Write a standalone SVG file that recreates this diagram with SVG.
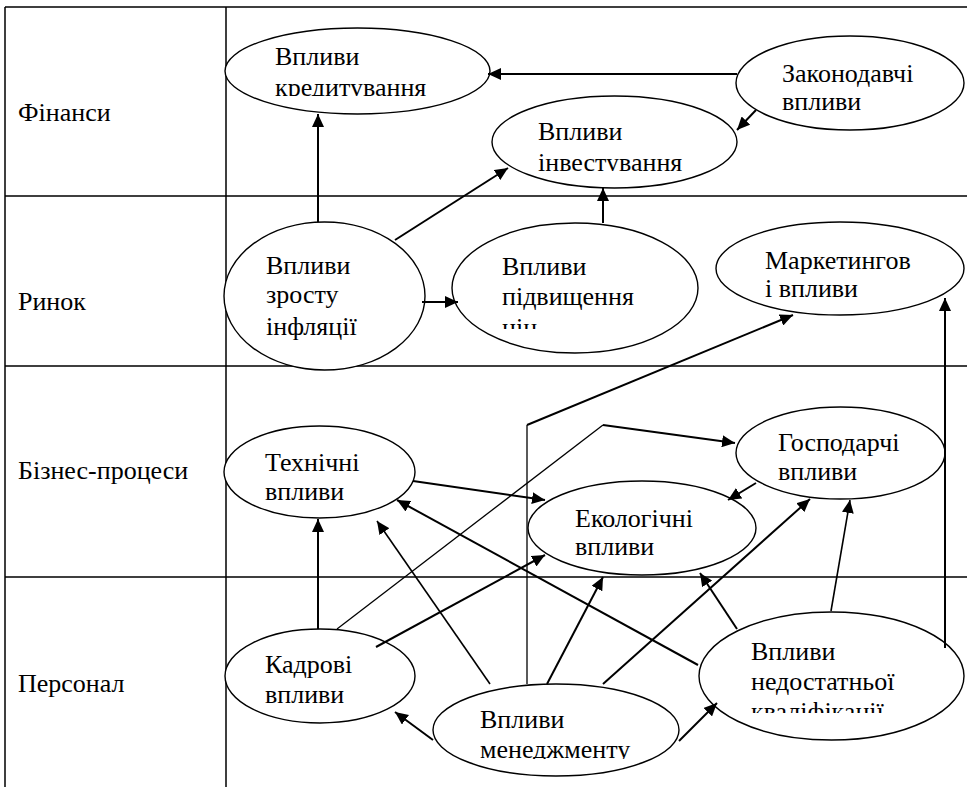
<svg xmlns="http://www.w3.org/2000/svg" width="967" height="787" viewBox="0 0 967 787">
<style>
.grid{stroke:#000;stroke-width:1.5;fill:none}
.node ellipse{fill:#fff;stroke:#000;stroke-width:1.4}
.c{stroke:#000;stroke-width:2;fill:none}
.t{stroke:#000;stroke-width:1.3;fill:none}
.m{stroke:#000;stroke-width:1.6;fill:none}
</style>
<defs>
<marker id="ah" markerUnits="userSpaceOnUse" markerWidth="14" markerHeight="12" refX="13" refY="6" orient="auto">
<path d="M0,0 L13,6 L0,12 z" fill="#000"/>
</marker>
<clipPath id="cp1"><rect x="0" y="0" width="967" height="96"/></clipPath>
<clipPath id="cp3"><rect x="0" y="0" width="967" height="171"/></clipPath>
<clipPath id="cp5"><rect x="0" y="0" width="967" height="329"/></clipPath>
<clipPath id="cp11"><rect x="0" y="0" width="967" height="759"/></clipPath>
<clipPath id="cp12"><rect x="0" y="0" width="967" height="713"/></clipPath>
</defs>
<rect width="967" height="787" fill="#fff"/>
<g font-family="Liberation Serif, serif" font-size="26" fill="#000">
<g id="table">
<path class="grid" d="M5,7 H967 M5,196 H967 M5,366 H967 M5,577 H967 M5,7 V787 M226,7 V787"/>
<text x="18" y="121">Фінанси</text>
<text x="18" y="310">Ринок</text>
<text x="18" y="479">Бізнес-процеси</text>
<text x="18" y="692">Персонал</text>
</g>
<g id="n1" class="node"><ellipse cx="357.5" cy="71" rx="132.5" ry="43"/><text x="275" y="65">Впливи</text><text x="275" y="96" clip-path="url(#cp1)">кредитування</text></g>
<g id="n2" class="node"><ellipse cx="850" cy="83" rx="114" ry="47"/><text x="782" y="82">Законодавчі</text><text x="782" y="110">впливи</text></g>
<g id="n3" class="node"><ellipse cx="614.5" cy="142" rx="122.5" ry="46"/><text x="538" y="140">Впливи</text><text x="538" y="171" clip-path="url(#cp3)">інвестування</text></g>
<g id="n4" class="node"><ellipse cx="324.5" cy="296" rx="100.5" ry="74"/><text x="266" y="274">Впливи</text><text x="266" y="303">зросту</text><text x="266" y="335">інфляції</text></g>
<g id="n5" class="node"><ellipse cx="575" cy="288" rx="123" ry="65"/><text x="502" y="275">Впливи</text><text x="502" y="305">підвищення</text><text x="502" y="336" clip-path="url(#cp5)">цін</text></g>
<g id="n6" class="node"><ellipse cx="840" cy="268.5" rx="124" ry="46.5"/><text x="765" y="269">Маркетингов</text><text x="765" y="297">і впливи</text></g>
<g id="n7" class="node"><ellipse cx="319.5" cy="472" rx="95.5" ry="46"/><text x="265" y="471">Технічні</text><text x="265" y="500">впливи</text></g>
<g id="n8" class="node"><ellipse cx="840.5" cy="453" rx="104.5" ry="46"/><text x="778" y="451">Господарчі</text><text x="778" y="480">впливи</text></g>
<g id="n9" class="node"><ellipse cx="642" cy="528" rx="114" ry="47"/><text x="575" y="527">Екологічні</text><text x="575" y="555">впливи</text></g>
<g id="n10" class="node"><ellipse cx="320" cy="676" rx="95" ry="47"/><text x="265" y="673">Кадрові</text><text x="265" y="703">впливи</text></g>
<g id="n11" class="node"><ellipse cx="556" cy="730" rx="123" ry="46"/><text x="480" y="728">Впливи</text><text x="480" y="758" clip-path="url(#cp11)">менеджменту</text></g>
<g id="n12" class="node"><ellipse cx="831.5" cy="676" rx="132.5" ry="64"/><text x="751" y="660">Впливи</text><text x="751" y="690">недостатньої</text><text x="751" y="720" clip-path="url(#cp12)">кваліфікації</text></g>
</g>
<g id="connectors">
<path class="c" marker-end="url(#ah)" d="M318,222 L318,114"/>
<path class="c" marker-end="url(#ah)" d="M737,74 L488,74"/>
<path class="c" marker-end="url(#ah)" d="M756,110 L737,130"/>
<path class="c" marker-end="url(#ah)" d="M395,240 L508,168"/>
<path class="c" marker-end="url(#ah)" d="M603,223 L603,188"/>
<path class="c" marker-end="url(#ah)" d="M422,302 L458,302"/>
<path class="t" d="M527,684 L527,425"/>
<path class="c" marker-end="url(#ah)" d="M527,425 L793,315"/>
<path class="t" d="M337,629 L603,425"/>
<path class="c" marker-end="url(#ah)" d="M603,425 L735,443"/>
<path class="c" marker-end="url(#ah)" d="M413,481 L545,500"/>
<path class="c" marker-end="url(#ah)" d="M756,483 L728,500"/>
<path class="c" marker-end="url(#ah)" d="M318,629 L318,519"/>
<path class="m" marker-end="url(#ah)" d="M490,684 L377,521"/>
<path class="c" marker-end="url(#ah)" d="M698,665 L397,500"/>
<path class="c" marker-end="url(#ah)" d="M376,647 L545,555"/>
<path class="c" marker-end="url(#ah)" d="M547,684 L603,577"/>
<path class="c" marker-end="url(#ah)" d="M603,684 L810,499"/>
<path class="c" marker-end="url(#ah)" d="M737,629 L700,573"/>
<path class="m" marker-end="url(#ah)" d="M831,611 L850,500"/>
<path class="c" marker-end="url(#ah)" d="M945,648 L945,298"/>
<path class="c" marker-end="url(#ah)" d="M433,740 L395,712"/>
<path class="c" marker-end="url(#ah)" d="M679,741 L717,703"/>
</g>
</svg>
